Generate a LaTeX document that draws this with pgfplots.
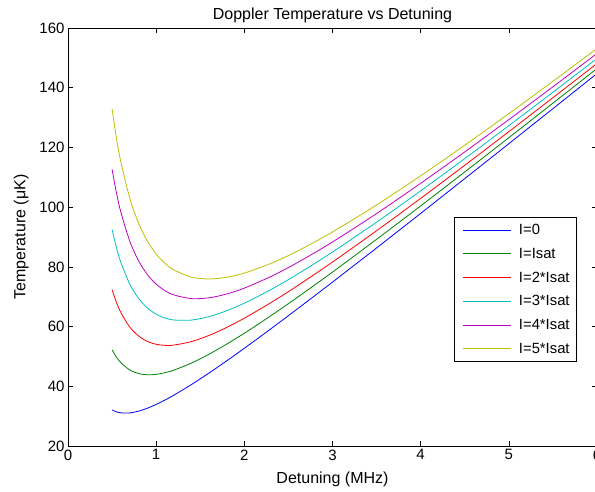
\documentclass[border=0pt]{standalone}
\usepackage{fontspec}
\setmainfont{Liberation Sans}
\usepackage{pgfplots}
\pgfplotsset{compat=1.18}
\definecolor{mgreen}{rgb}{0,0.5,0}
\definecolor{mcyan}{rgb}{0,0.75,0.75}
\definecolor{mmagenta}{rgb}{0.75,0,0.75}
\definecolor{myellow}{rgb}{0.75,0.75,0}

\begin{document}
\begin{tikzpicture}
\begin{axis}[
  scale only axis,
  width=529pt, height=418pt,
  at={(68pt,45pt)}, anchor=south west,
  xmin=0, xmax=6, ymin=20, ymax=160,
  xtick={0,1,2,3,4,5,6},
  ytick={20,40,60,80,100,120,140,160},
  tick align=inside,
  major tick length=5pt,
  font=\fontsize{16}{19}\selectfont,
  tick label style={font=\fontsize{15}{18}\selectfont},
  /pgf/number format/assume math mode=true,
  axis line style={line width=0.8pt},
  every tick/.style={black,line width=0.6pt},
  title={Doppler Temperature vs Detuning},
  title style={yshift=-4pt},
  xlabel={Detuning (MHz)},
  ylabel={Temperature (μK)},
  xlabel style={yshift=-5pt},
  ylabel style={yshift=4pt},
  legend cell align=left,
  legend style={at={(0.962,0.548)},anchor=north east,
    font=\fontsize{14.8}{17}\selectfont,
    draw=black,line width=0.6pt,
    row sep=8pt, inner xsep=5pt, inner ysep=5pt},
  legend image code/.code={%
    \path[draw=none,fill=none] (0pt,0pt) -- (58pt,0pt);
    \draw[#1,line width=1pt] plot coordinates {(4pt,0pt) (52pt,0pt)};},
  every axis plot/.append style={line width=0.8pt, smooth},
]
\addplot[blue] coordinates {(0.5,32.07) (0.55,31.43) (0.6,31.10) (0.7,31.09) (0.8,31.67) (0.9,32.66) (1.0,33.92) (1.1,35.39) (1.2,37.01) (1.4,40.58) (1.6,44.45) (1.8,48.52) (2.0,52.73) (2.3,59.23) (2.6,65.88) (3.0,74.90) (3.5,86.34) (4.0,97.90) (4.5,109.55) (5.0,121.25) (5.5,132.99) (6.0,144.76)};
\addlegendentry{I=0}
\addplot[mgreen] coordinates {(0.5,52.22) (0.55,49.75) (0.6,47.89) (0.7,45.48) (0.8,44.27) (0.9,43.85) (1.0,44.00) (1.1,44.55) (1.2,45.41) (1.4,47.78) (1.6,50.75) (1.8,54.12) (2.0,57.77) (2.3,63.61) (2.6,69.75) (3.0,78.25) (3.5,89.22) (4.0,100.42) (4.5,111.79) (5.0,123.26) (5.5,134.82) (6.0,146.43)};
\addlegendentry{I=Isat}
\addplot[red] coordinates {(0.5,72.37) (0.55,68.07) (0.6,64.68) (0.7,59.87) (0.8,56.86) (0.9,55.04) (1.0,54.07) (1.1,53.71) (1.2,53.80) (1.4,54.97) (1.6,57.04) (1.8,59.71) (2.0,62.81) (2.3,67.99) (2.6,73.63) (3.0,81.61) (3.5,92.10) (4.0,102.94) (4.5,114.02) (5.0,125.28) (5.5,136.65) (6.0,148.11)};
\addlegendentry{I=2*Isat}
\addplot[mcyan] coordinates {(0.5,92.52) (0.55,86.39) (0.6,81.48) (0.7,74.26) (0.8,69.45) (0.9,66.24) (1.0,64.15) (1.1,62.87) (1.2,62.20) (1.4,62.17) (1.6,63.34) (1.8,65.31) (2.0,67.84) (2.3,72.37) (2.6,77.50) (3.0,84.97) (3.5,94.98) (4.0,105.46) (4.5,116.26) (5.0,127.29) (5.5,138.48) (6.0,149.79)};
\addlegendentry{I=3*Isat}
\addplot[mmagenta] coordinates {(0.5,112.67) (0.55,104.71) (0.6,98.27) (0.7,88.66) (0.8,82.05) (0.9,77.43) (1.0,74.22) (1.1,72.03) (1.2,70.60) (1.4,69.36) (1.6,69.64) (1.8,70.91) (2.0,72.88) (2.3,76.75) (2.6,81.38) (3.0,88.33) (3.5,97.86) (4.0,107.98) (4.5,118.50) (5.0,129.31) (5.5,140.31) (6.0,151.47)};
\addlegendentry{I=4*Isat}
\addplot[myellow] coordinates {(0.5,132.82) (0.55,123.02) (0.6,115.06) (0.7,103.05) (0.8,94.64) (0.9,88.63) (1.0,84.30) (1.1,81.18) (1.2,78.99) (1.4,76.56) (1.6,75.94) (1.8,76.51) (2.0,77.92) (2.3,81.13) (2.6,85.25) (3.0,91.69) (3.5,100.73) (4.0,110.50) (4.5,120.74) (5.0,131.32) (5.5,142.15) (6.0,153.15)};
\addlegendentry{I=5*Isat}
\end{axis}
\pgfresetboundingbox
\useasboundingbox (0,0) rectangle (595pt,491pt);
\end{tikzpicture}
\end{document}
